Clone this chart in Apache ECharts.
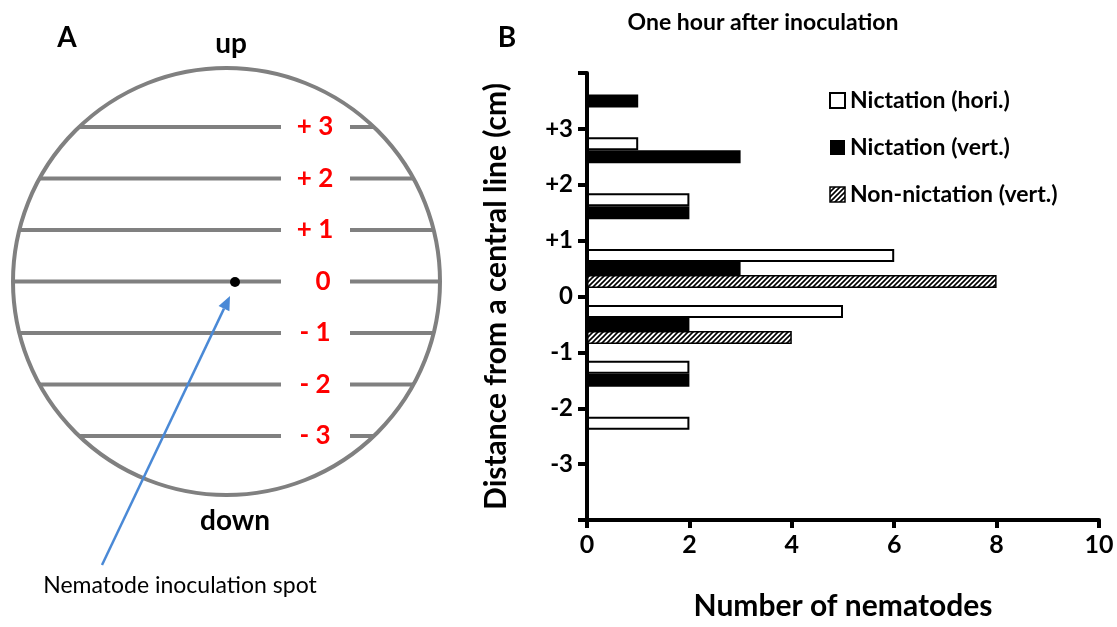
<!DOCTYPE html>
<html>
<head>
<meta charset="utf-8">
<script src="https://cdn.jsdelivr.net/npm/echarts@6/dist/echarts.min.js"></script>
<style>
  html, body { margin: 0; padding: 0; background: #fff; }
  #chart { width: 1117px; height: 627px; }
</style>
</head>
<body>
<div id="chart"></div>
<script>
// bands between two lines, from the top of the plate down
const bands = ['+3 to +4', '+2 to +3', '+1 to +2', '0 to +1', '-1 to 0', '-2 to -1', '-3 to -2', '-4 to -3'];
const horiNict = [0, 1, 2, 6, 5, 2, 2, 0];
const vertNict = [1, 3, 2, 3, 2, 2, 0, 0];
const vertNonNict = [0, 0, 0, 8, 4, 0, 0, 0];
const seriesNames = ['Nictation (hori.)', 'Nictation (vert.)', 'Non-nictation (vert.)'];
// lines drawn on the plate in panel A
const plateLevels = [3, 2, 1, 0, -1, -2, -3];
const xTicks = [0, 2, 4, 6, 8, 10];

const FONT = 'Lato';

function hatch() {
    const c = document.createElement('canvas');
    c.width = 5; c.height = 5;
    const g = c.getContext('2d');
    g.fillStyle = '#fff';
    g.fillRect(0, 0, 5, 5);
    g.strokeStyle = '#000';
    g.lineWidth = 1.6;
    g.beginPath();
    g.moveTo(-1, 6); g.lineTo(6, -1);
    g.moveTo(-3.5, 3.5); g.lineTo(3.5, -3.5);
    g.moveTo(1.5, 8.5); g.lineTo(8.5, 1.5);
    g.stroke();
    return { image: c, repeat: 'repeat' };
}
const hatchFill = hatch();

const styles = [
    { color: '#fff', borderColor: '#000', borderWidth: 2 },
    { color: '#000', borderColor: '#000', borderWidth: 0 },
    { color: hatchFill, borderColor: '#000', borderWidth: 1.5 }
];

// panel A: the plate drawing
const cx = 226.5, cy = 281.5, r = 213.5, step = 51.5;
const plate = [];
plate.push({ type: 'circle', shape: { cx: cx, cy: cy, r: r }, style: { fill: '#fff', stroke: '#808080', lineWidth: 4 }, z: 1 });
plateLevels.forEach(k => {
    const y = cy - k * step;
    const dx = Math.sqrt(r * r - (y - cy) * (y - cy));
    plate.push({ type: 'line', shape: { x1: cx - dx, y1: y, x2: 281, y2: y }, style: { stroke: '#808080', lineWidth: 4 }, z: 2 });
    plate.push({ type: 'line', shape: { x1: 350, y1: y, x2: cx + dx, y2: y }, style: { stroke: '#808080', lineWidth: 4 }, z: 2 });
    const txt = k > 0 ? '+ ' + k : (k < 0 ? '- ' + (-k) : '0');
    plate.push({ type: 'text', x: k === 0 ? 323 : 315, y: y, style: { text: txt, fill: '#ff0000', font: 'bold 26px ' + FONT, align: 'center', verticalAlign: 'middle' }, z: 3 });
});
plate.push({ type: 'circle', shape: { cx: 235, cy: 282, r: 5 }, style: { fill: '#000' }, z: 4 });

// arrow to the inoculation spot
const ax1 = 102, ay1 = 565, ax2 = 230, ay2 = 296;
const ang = Math.atan2(ay2 - ay1, ax2 - ax1);
const hl = 14, hw = 6;
const bx = ax2 - hl * Math.cos(ang), by = ay2 - hl * Math.sin(ang);
plate.push({ type: 'line', shape: { x1: ax1, y1: ay1, x2: bx, y2: by }, style: { stroke: '#4a89d6', lineWidth: 2.5 }, z: 5 });
plate.push({ type: 'polygon', shape: { points: [[ax2, ay2],
    [bx + hw * Math.sin(ang), by - hw * Math.cos(ang)],
    [bx - hw * Math.sin(ang), by + hw * Math.cos(ang)]] }, style: { fill: '#4a89d6' }, z: 5 });

plate.push({ type: 'text', x: 67, y: 38, style: { text: 'A', font: 'bold 28px ' + FONT, fill: '#000', align: 'center', verticalAlign: 'middle' } });
plate.push({ type: 'text', x: 231, y: 44, style: { text: 'up', font: 'bold 28px ' + FONT, fill: '#000', align: 'center', verticalAlign: 'middle' } });
plate.push({ type: 'text', x: 235, y: 521, style: { text: 'down', font: 'bold 28px ' + FONT, fill: '#000', align: 'center', verticalAlign: 'middle' } });
plate.push({ type: 'text', x: 180, y: 586, style: { text: 'Nematode inoculation spot', font: '23px ' + FONT, fill: '#000', align: 'center', verticalAlign: 'middle' } });
plate.push({ type: 'text', x: 507, y: 38, style: { text: 'B', font: 'bold 28px ' + FONT, fill: '#000', align: 'center', verticalAlign: 'middle' } });

const chart = echarts.init(document.getElementById('chart'));

const option = {
    animation: false,
    backgroundColor: '#fff',
    title: {
        text: 'One hour after inoculation',
        left: 758, top: 6,
        textAlign: 'center',
        textStyle: { fontFamily: FONT, fontSize: 23, fontWeight: 'bold', color: '#000' }
    },
    legend: {
        orient: 'vertical',
        left: 824, top: 84,
        itemWidth: 15, itemHeight: 15,
        itemGap: 24,
        itemTextGap: 5,
        icon: 'rect',
        textStyle: { fontFamily: FONT, fontSize: 23, fontWeight: 'bold', color: '#000' },
        data: seriesNames.map((n, i) => ({ name: n, itemStyle: styles[i] }))
    },
    grid: { left: 587, right: 18, top: 73, bottom: 107 },
    xAxis: {
        type: 'value',
        min: 0, max: 10, interval: 2,
        name: 'Number of nematodes',
        nameLocation: 'middle',
        nameGap: 71,
        nameTextStyle: { fontFamily: FONT, fontSize: 30, fontWeight: 'bold', color: '#000' },
        axisLine: { show: true, onZero: false, lineStyle: { color: '#000', width: 4 } },
        axisTick: { show: true, length: 8, lineStyle: { color: '#000', width: 4 } },
        axisLabel: { fontFamily: FONT, fontSize: 25, fontWeight: 'bold', color: '#000', margin: 12,
            customValues: xTicks },
        splitLine: { show: false }
    },
    yAxis: [{
        type: 'category',
        data: bands,
        inverse: true,
        axisLine: { show: false },
        axisTick: { show: false },
        axisLabel: { show: false },
        splitLine: { show: false }
    }, {
        type: 'value',
        position: 'left',
        min: -4, max: 4, interval: 1,
        name: 'Distance from a central line (cm)',
        nameLocation: 'middle',
        nameGap: 76,
        nameRotate: 90,
        nameTextStyle: { fontFamily: FONT, fontSize: 30, fontWeight: 'bold', color: '#000' },
        axisLine: { show: true, onZero: false, lineStyle: { color: '#000', width: 4 } },
        axisTick: { show: true, length: 9, lineStyle: { color: '#000', width: 4 } },
        axisLabel: {
            fontFamily: FONT, fontSize: 24, fontWeight: 'bold', color: '#000', margin: 14,
            formatter: v => (Math.abs(v) === 4 ? '' : (v > 0 ? '+' + v : String(v)))
        },
        splitLine: { show: false }
    }],
    series: [horiNict, vertNict, vertNonNict].map((d, i) => ({
        name: seriesNames[i],
        type: 'bar',
        yAxisIndex: 0,
        data: d.map(v => (v === 0 ? null : v)),
        barGap: '0%',
        barCategoryGap: '30%',
        itemStyle: styles[i]
    })),
    graphic: plate
};

chart.setOption(option);
</script>
</body>
</html>
